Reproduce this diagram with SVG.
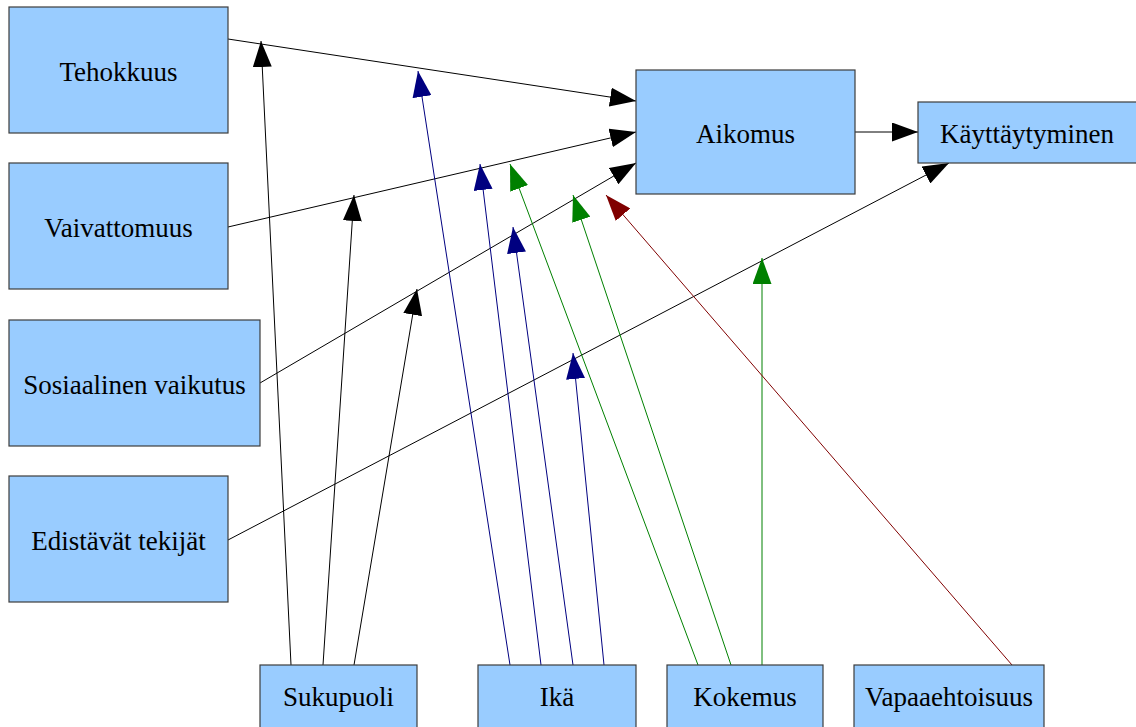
<svg xmlns="http://www.w3.org/2000/svg" width="1136" height="727" viewBox="0 0 1136 727">
  <style>
    .box { fill: #99ccff; stroke: #3c3c3c; stroke-width: 1.2; }
    .lbl { font-family: "Liberation Serif", "Times New Roman", serif; font-size: 27px; fill: #000; text-anchor: middle; }
    .e { fill: none; stroke-width: 1; }
    .k { stroke: #000000; }
    .b { stroke: #000080; }
    .g { stroke: #008000; }
    .r { stroke: #800000; }
  </style>
  <defs>
    <marker id="ak" markerUnits="userSpaceOnUse" markerWidth="27" markerHeight="19" refX="26" refY="9.5" orient="auto"><path d="M0,0 L26,9.5 L0,19 z" fill="#000000"/></marker>
    <marker id="ab" markerUnits="userSpaceOnUse" markerWidth="27" markerHeight="19" refX="26" refY="9.5" orient="auto"><path d="M0,0 L26,9.5 L0,19 z" fill="#000080"/></marker>
    <marker id="ag" markerUnits="userSpaceOnUse" markerWidth="27" markerHeight="19" refX="26" refY="9.5" orient="auto"><path d="M0,0 L26,9.5 L0,19 z" fill="#008000"/></marker>
    <marker id="ar" markerUnits="userSpaceOnUse" markerWidth="27" markerHeight="19" refX="26" refY="9.5" orient="auto"><path d="M0,0 L26,9.5 L0,19 z" fill="#800000"/></marker>
  </defs>
  <rect width="1136" height="727" fill="#ffffff"/>

  <g id="connectors">
    <!-- main paths -->
    <line class="e k" x1="228" y1="39" x2="636" y2="101" marker-end="url(#ak)"/>
    <line class="e k" x1="228" y1="227" x2="636" y2="132" marker-end="url(#ak)"/>
    <line class="e k" x1="260" y1="383" x2="636" y2="163" marker-end="url(#ak)"/>
    <line class="e k" x1="228" y1="540" x2="949" y2="163" marker-end="url(#ak)"/>
    <line class="e k" x1="855" y1="132" x2="918" y2="132" marker-end="url(#ak)"/>
    <!-- Sukupuoli moderators -->
    <line class="e k" x1="291" y1="665" x2="261" y2="41" marker-end="url(#ak)"/>
    <line class="e k" x1="323" y1="665" x2="354" y2="195" marker-end="url(#ak)"/>
    <line class="e k" x1="354" y1="665" x2="417" y2="289" marker-end="url(#ak)"/>
    <!-- Ikä moderators -->
    <line class="e b" x1="510" y1="665" x2="418" y2="71" marker-end="url(#ab)"/>
    <line class="e b" x1="541" y1="665" x2="480" y2="164" marker-end="url(#ab)"/>
    <line class="e b" x1="573" y1="665" x2="513" y2="227" marker-end="url(#ab)"/>
    <line class="e b" x1="604" y1="665" x2="573" y2="353" marker-end="url(#ab)"/>
    <!-- Kokemus moderators -->
    <line class="e g" x1="698" y1="665" x2="510" y2="164" marker-end="url(#ag)"/>
    <line class="e g" x1="731" y1="665" x2="573" y2="195" marker-end="url(#ag)"/>
    <line class="e g" x1="762" y1="665" x2="762" y2="258" marker-end="url(#ag)"/>
    <!-- Vapaaehtoisuus moderator -->
    <line class="e r" x1="1012" y1="665" x2="606" y2="195" marker-end="url(#ar)"/>
  </g>

  <g id="tehokkuus"><rect class="box" x="9" y="7" width="219" height="126"/><text class="lbl" x="118.5" y="81">Tehokkuus</text></g>
  <g id="vaivattomuus"><rect class="box" x="9" y="163" width="219" height="126"/><text class="lbl" x="118.5" y="237">Vaivattomuus</text></g>
  <g id="sosiaalinen-vaikutus"><rect class="box" x="9" y="320" width="251" height="126"/><text class="lbl" x="134.5" y="394">Sosiaalinen vaikutus</text></g>
  <g id="edistavat-tekijat"><rect class="box" x="9" y="476" width="219" height="126"/><text class="lbl" x="118.5" y="550">Edistävät tekijät</text></g>
  <g id="aikomus"><rect class="box" x="636" y="70" width="219" height="124"/><text class="lbl" x="745.5" y="143">Aikomus</text></g>
  <g id="kayttaytyminen"><rect class="box" x="918" y="102" width="219" height="61"/><text class="lbl" x="1027" y="143">Käyttäytyminen</text></g>
  <g id="sukupuoli"><rect class="box" x="260" y="665" width="157" height="64"/><text class="lbl" x="338.5" y="706">Sukupuoli</text></g>
  <g id="ika"><rect class="box" x="478" y="665" width="158" height="64"/><text class="lbl" x="557" y="706">Ikä</text></g>
  <g id="kokemus"><rect class="box" x="667" y="665" width="156" height="64"/><text class="lbl" x="745" y="706">Kokemus</text></g>
  <g id="vapaaehtoisuus"><rect class="box" x="854" y="665" width="190" height="64"/><text class="lbl" x="949" y="706">Vapaaehtoisuus</text></g>
</svg>
